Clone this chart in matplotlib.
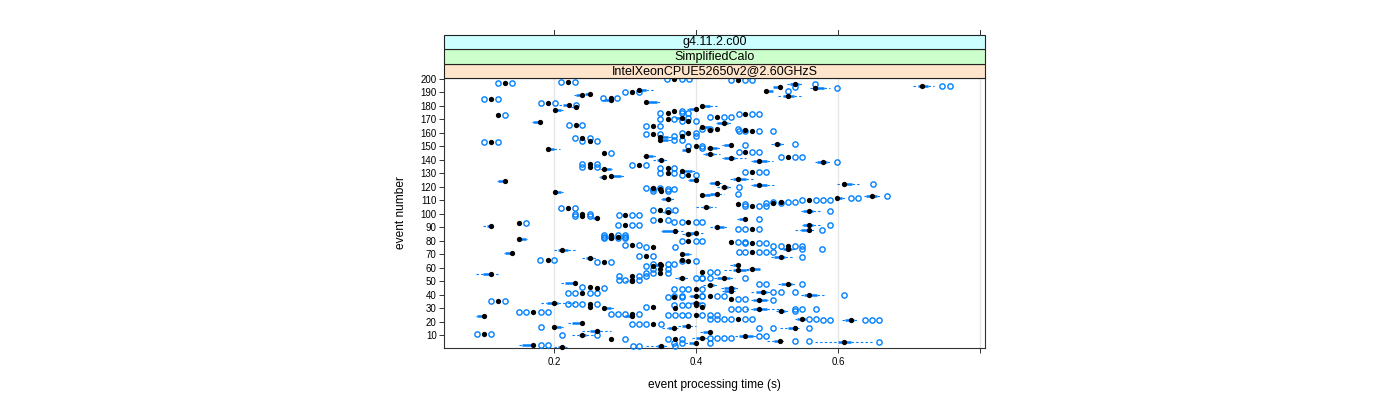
import matplotlib
matplotlib.use("Agg")
import matplotlib.pyplot as plt
from matplotlib.patches import Rectangle
from matplotlib.lines import Line2D
import matplotlib.transforms as mtransforms

plt.rcParams['font.family'] = ['Liberation Sans', 'DejaVu Sans']

N = None
# event number of each box (rows of the bwplot)
event = [200, 199, 198, 197, 196, 195, 194, 193, 192, 191,
         190, 189, 188, 187, 186, 185, 184, 183, 182, 181,
         180, 179, 178, 177, 176, 175, 174, 173, 172, 171,
         170, 169, 168, 167, 166, 165, 164, 163, 162, 162,
         161, 160, 159, 158, 157, 156, 155, 154, 153, 152,
         151, 150, 149, 148, 147, 146, 145, 144, 143, 142,
         141, 140, 139, 138, 137, 136, 135, 134, 133, 132,
         131, 130, 129, 128, 127, 126, 125, 124, 123, 122,
         121, 120, 119, 118, 117, 116, 115, 114, 113, 112,
         111, 110, 109, 108, 107, 106, 105, 104, 103, 102,
         101, 100, 99, 98, 97, 96, 95, 94, 93, 92,
         92, 91, 90, 89, 88, 87, 86, 85, 84, 83,
         82, 81, 80, 79, 78, 77, 76, 75, 74, 73,
         72, 71, 70, 69, 68, 67, 66, 66, 65, 64,
         63, 62, 62, 61, 59, 59, 58, 57, 56, 55,
         54, 52, 52, 51, 50, 49, 48, 47, 46, 45,
         45, 44, 43, 42, 41, 40, 39, 39, 38, 37,
         36, 35, 34, 34, 33, 32, 31, 31, 31, 30,
         30, 29, 28, 27, 26, 25, 24, 24, 22, 22,
         21, 19, 18, 17, 16, 15, 15, 13, 12, 11,
         10, 9, 8, 7, 7, 6, 5, 4, 3, 2,
         1]

# median event processing time (s)
median = [.369, .459, .220, .131, .539, .718, .518, .568, .320, .499,
          .310, .250, .240, .529, .280, .111, .280, .330, .191, .221,
          .409, .231, .400, .201, .369, .360, .469, .121, .429, .380,
          .360, .389, .180, .439, .231, .340, .409, .429, .420, .469,
          .479, .389, .340, .380, .349, .240, .349, .250, .111, .514,
          .449, .400, .420, .191, .389, .469, .270, .420, .330, .529,
          .449, .350, .489, .579, .250, .320, .250, .360, .270, .380,
          .479, .360, .389, .280, .270, .459, .400, .131, .429, .609,
          .489, .439, .340, .349, .350, .201, .429, .409, .648, .598,
          .360, .559, .519, .509, .459, .479, .414, .220, .349, .559,
          .360, .240, .300, .240, .260, .469, .349, .389, .151, .300,
          .559, .111, .429, .479, .559, .370, .400, .389, .280, .290,
          .280, .151, .389, .449, .479, .310, .529, .340, .529, .211,
          .479, .141, .380, .330, .519, .250, .191, .380, .389, .270,
          .349, .459, .350, .340, .349, .479, .459, .409, .349, .111,
          .310, .380, .439, .310, .310, .230, .529, .420, .250, .260,
          .449, .400, .449, .494, .240, .559, .400, .420, .369, .449,
          .489, .121, .200, .400, .250, .400, .340, .409, .250, .270,
          .370, .489, .519, .170, .310, .400, .101, .310, .459, .549,
          .618, .240, .340, .389, .200, .539, .369, .260, .420, .101,
          .240, .469, .409, .280, .370, .518, .609, .400, .170, .350,
          .211]

# lower / upper hinge of the box (None: box collapsed on the median)
box_lo = [N, N, N, N, .533, .712, .509, .568, .320, .499,
          N, .243, .231, .522, N, N, .270, .330, N, .212,
          .409, .226, .390, .201, N, N, N, N, N, .372,
          N, N, .171, .430, N, N, .409, N, N, N,
          N, N, N, N, .349, N, .349, N, N, .510,
          .440, N, .415, .191, .380, N, N, .412, .327, N,
          .440, .345, .480, .570, N, N, N, N, .270, .380,
          N, N, N, .280, .265, .452, .390, .121, .420, .605,
          .480, .435, N, N, N, .201, .420, .409, .640, .598,
          .352, N, N, N, N, N, .410, N, N, .550,
          .355, N, N, N, .255, .460, N, N, N, N,
          .550, .105, .425, N, .548, .352, .390, .385, N, N,
          N, .151, N, N, N, N, N, N, .522, .205,
          N, .131, .380, N, .510, .245, N, N, N, N,
          N, .452, .342, N, N, .475, .452, N, N, .100,
          N, .375, .430, N, .305, .215, .520, .415, N, N,
          .440, N, .440, .485, N, .552, .392, N, N, N,
          .480, N, .190, .395, N, N, N, N, N, .270,
          N, .480, .515, N, N, N, .092, .300, N, .542,
          .610, .225, N, .380, .200, .530, .360, .250, .410, N,
          .235, .460, .400, N, N, .510, .600, .390, .155, .345,
          .205]
box_hi = [N, N, N, N, .545, .727, .518, .580, .330, .508,
          N, .250, .240, .538, N, N, .280, .345, N, .221,
          .420, .231, .400, .210, N, N, N, N, N, .380,
          N, N, .180, .445, N, N, .418, N, N, N,
          N, N, N, N, .360, N, .360, N, N, .520,
          .449, N, .430, .200, .389, N, N, .425, .340, N,
          .455, .355, .500, .585, N, N, N, N, .280, .395,
          N, N, N, .295, .270, .470, .400, .131, .432, .620,
          .500, .445, N, N, N, .210, .432, .420, .655, .605,
          .365, N, N, N, N, N, .420, N, N, .565,
          .365, N, N, N, .260, .469, N, N, N, N,
          .565, .111, .440, N, .562, .372, .400, .395, N, N,
          N, .160, N, N, N, N, N, N, .535, .220,
          N, .141, .390, N, .525, .255, N, N, N, N,
          N, .462, .350, N, N, .490, .470, N, N, .111,
          N, .385, .448, N, .310, .230, .535, .425, N, N,
          .455, N, .452, .500, N, .570, .400, N, N, N,
          .500, N, .205, .405, N, N, N, N, N, .280,
          N, .500, .525, N, N, N, .101, .310, N, .555,
          .622, .240, N, .392, .210, .542, .372, .265, .420, N,
          .245, .480, .412, N, N, .520, .618, .400, .170, .355,
          .215]
# whisker ends
whisk_lo = [N, N, N, N, .528, .706, .509, .560, .315, .499,
            N, .238, .228, .515, N, N, .268, .330, N, .207,
            .405, .224, .387, .201, N, N, N, N, N, .370,
            N, N, .169, .428, N, N, .405, N, N, N,
            N, N, N, N, .349, N, .349, N, N, .505,
            .436, N, .410, .191, .380, N, N, .410, .325, N,
            .436, .340, .478, .568, N, N, N, N, .265, .380,
            N, N, N, .280, .263, .448, .389, .119, .418, .598,
            .478, .430, N, N, N, .201, .415, .405, .636, .598,
            .350, N, N, N, N, N, .400, N, N, .548,
            .352, N, N, N, .252, .458, N, N, N, N,
            .549, .100, .420, N, .540, .350, .388, .380, N, N,
            N, .151, N, N, N, N, N, N, .518, .200,
            N, .129, .380, N, .505, .240, N, N, N, N,
            N, .448, .340, N, N, .470, .440, N, N, .090,
            N, .370, .425, N, .300, .210, .515, .410, N, N,
            .435, N, .436, .478, N, .548, .390, N, N, N,
            .478, N, .181, .392, N, N, N, N, N, .268,
            N, .470, .512, N, N, N, .090, .298, N, .540,
            .605, .220, N, .375, .200, .518, .352, .240, .405, N,
            .225, .455, .395, N, N, .500, .568, .385, .150, .330,
            .200]
whisk_hi = [N, N, N, N, .549, .735, .521, .589, .341, .509,
            N, .250, .240, .548, N, N, .280, .350, N, .221,
            .429, .233, .400, .212, N, N, N, N, N, .385,
            N, N, .180, .450, N, N, .420, N, N, N,
            N, N, N, N, .368, N, .365, N, N, .525,
            .455, N, .435, .209, .389, N, N, .434, .345, N,
            .471, .360, .509, .590, N, N, N, N, .282, .400,
            N, N, N, .300, .270, .480, .403, .131, .435, .630,
            .510, .450, N, N, N, .212, .440, .428, .660, .610,
            .370, N, N, N, N, N, .428, N, N, .575,
            .367, N, N, N, .265, .470, N, N, N, N,
            .575, .116, .445, N, .568, .382, .410, .400, N, N,
            N, .162, N, N, N, N, N, N, .540, .232,
            N, .141, .393, N, .537, .260, N, N, N, N,
            N, .462, .350, N, N, .490, .478, N, N, .122,
            N, .390, .455, N, .312, .235, .540, .430, N, N,
            .460, N, .455, .505, N, .580, .402, N, N, N,
            .502, N, .232, .408, N, N, N, N, N, .285,
            N, .518, .530, N, N, N, .103, .312, N, .555,
            .628, .245, N, .400, .212, .545, .375, .280, .422, N,
            .255, .485, .415, N, N, .525, .650, .405, .172, .360,
            .218]

# outlying runs of each event
outliers = [[.359, .380, .390], [.449, .469, .479], [.210, .230], [.121, .141], [.568],
            [.747, .758], [.539], [.598], [], [.529],
            [.300, .320], [], [], [], [.269, .289], [.101, .121], [], [], [.181, .201], [.231],
            [], [], [], [], [.380], [.349, .380, .389], [.460, .479, .489], [.131],
            [.420, .439, .449], [.389],
            [.349, .369], [.380, .400], [], [], [.221, .240], [.330, .349], [],
            [.409, .420, .459], [], [],
            [.460, .469, .489, .509], [.380, .400], [.330, .349], [.369, .400], [],
            [.230, .250], [.369, .380], [.240, .260], [.101, .121], [.539],
            [.469], [.389, .409], [.409], [], [], [.460, .479, .489], [.280], [], [],
            [.519, .539, .549],
            [], [], [], [.598], [.240, .260], [.310, .330], [.240, .260], [.349, .369], [], [],
            [.469, .489, .499], [.349, .369], [.380, .400], [], [], [], [], [], [], [.649],
            [], [.460], [.330, .349], [.340, .360, .369], [.340, .360], [], [.459], [],
            [.669], [.618, .628],
            [], [.549, .569, .579, .589], [.509, .529, .539], [.499, .519], [.469],
            [.469, .489, .499], [], [.210, .230], [.340, .360, .370], [.589],
            [], [.230, .250], [.291, .310, .320], [.230, .250], [], [.489], [.340, .360],
            [.369, .380, .400, .409], [.161], [.290, .310, .320],
            [.589], [], [], [.459, .469, .489], [.578], [], [], [], [.270, .290, .300],
            [.270, .280, .300],
            [.270, .290, .300], [], [.380, .400, .409], [.459, .469], [.469, .489, .499],
            [.300, .320], [.509, .519, .539, .549], [.330, .370], [.549, .578], [],
            [.460, .469, .489, .499, .509], [], [], [.320, .340], [.549], [], [.180, .200], [],
            [.380, .400], [.260, .280],
            [.340, .360, .369], [], [], [.330], [.340, .360], [], [], [.420, .429],
            [.330, .340, .360], [],
            [.291, .320, .330], [.400, .409], [.409, .420, .469], [.291, .300, .320], [], [],
            [.489, .499, .549], [], [.240], [.270],
            [], [.369, .380, .389, .409], [], [.509, .519, .539], [.220, .230, .250, .260],
            [.609], [.369, .380, .409], [.409, .429, .439], [.360, .380], [.459, .469],
            [.509], [.111, .131], [], [], [.220, .230, .240, .260], [.369, .380, .389, .409],
            [.330], [], [], [],
            [], [.449, .459, .469, .540, .549, .569], [.540], [.150, .160, .181, .191],
            [.280, .290, .300, .320], [.360, .370, .380, .389, .409, .420, .429], [], [],
            [.420, .429, .439, .449, .469, .479], [.559, .569],
            [.579, .589, .638, .648, .658], [], [.310, .320, .330, .350], [], [.181],
            [.489, .509, .559], [], [], [], [.091, .111],
            [.211, .260], [.489, .499], [.420, .429, .439, .449], [.300], [.360, .380],
            [.539, .559], [.658], [.369, .380, .420], [.181, .191], [.311, .320, .370],
            []]

ytick_vals = list(range(10, 201, 10))
xtick_vals = [0.2, 0.4, 0.6, 0.8]
xtick_labels = ['0.2', '0.4', '0.6', '']
strip_labels = ['IntelXeonCPUE52650v2@2.60GHzS', 'SimplifiedCalo', 'g4.11.2.c00']
strip_colors = ['#ffe5cc', '#ccffcc', '#ccffff']

BLUE = '#0080ff'
W, H = 1400, 400
fig = plt.figure(figsize=(W / 100, H / 100), dpi=100)
L, R, T, B = 444, 985, 78, 348
ax = fig.add_axes([L / W, 1 - B / H, (R - L) / W, (B - T) / H])
ax.set_xlim(0.045, 0.807)
ax.set_ylim(0.45, 200.65)

for xv in xtick_vals:
    ax.axvline(xv, color='#e6e6e6', lw=0.9, zorder=0)

# boxes and whiskers
bx_y, bx_a, bx_b = [], [], []
wy, wa, wb = [], [], []
for i, ev in enumerate(event):
    if box_lo[i] is None:
        continue
    bx_y.append(ev); bx_a.append(box_lo[i]); bx_b.append(box_hi[i])
    if whisk_lo[i] < box_lo[i]:
        wy.append(ev); wa.append(whisk_lo[i]); wb.append(box_lo[i])
    if whisk_hi[i] > box_hi[i]:
        wy.append(ev); wa.append(box_hi[i]); wb.append(whisk_hi[i])
ax.hlines(wy, wa, wb, colors=BLUE, lw=0.8, linestyles=(0, (2.2, 2.0)), zorder=2)
ax.hlines(bx_y, bx_a, bx_b, colors=BLUE, lw=1.8, zorder=2)

ox, oy = [], []
for i, ev in enumerate(event):
    for v in outliers[i]:
        ox.append(v); oy.append(ev)
ax.plot(ox, oy, 'o', ms=3.8, mfc='none', mec=BLUE, mew=1.0, zorder=3, clip_on=False)
ax.plot(median, event, 'o', ms=3.8, color='black', mec='black', mew=0, zorder=4, clip_on=False)

# axes styling
for s in ax.spines.values():
    s.set_color('#333333')
    s.set_linewidth(0.8)
ax.set_xticks(xtick_vals)
ax.set_xticklabels(xtick_labels)
ax.set_yticks(ytick_vals)
ax.set_yticklabels([str(v) for v in ytick_vals])
ax.tick_params(axis='both', direction='out', length=3.8, width=0.7, color='#333333',
               labelsize=7.0, pad=1.5)
ax.tick_params(axis='x', pad=3)

# strips above the panel
strip_h = (T - 35) / 3.0
for k, (lab, col) in enumerate(zip(strip_labels, strip_colors)):
    y0 = T - (k + 1) * strip_h
    fig.add_artist(Rectangle((L / W, 1 - (y0 + strip_h) / H), (R - L) / W, strip_h / H,
                             transform=fig.transFigure, facecolor=col,
                             edgecolor='#222222', lw=0.8))
    fig.text((L + R) / 2 / W, 1 - (y0 + strip_h / 2 + 0.3) / H, lab, ha='center', va='center',
             fontsize=9.0, color='black')

# top ticks above strips
trans = mtransforms.blended_transform_factory(ax.transData, fig.transFigure)
for xv in xtick_vals:
    fig.add_artist(Line2D([xv, xv], [1 - 35 / H, 1 - 29.5 / H], transform=trans,
                          color='#333333', lw=0.7))

fig.text((L + R) / 2 / W, 1 - 385 / H, 'event processing time (s)', ha='center', va='center',
         fontsize=8.6)
fig.text(401 / W, 1 - (T + B) / 2 / H, 'event number', ha='center', va='center',
         rotation=90, fontsize=8.6)

fig.savefig('out.png', dpi=100)
